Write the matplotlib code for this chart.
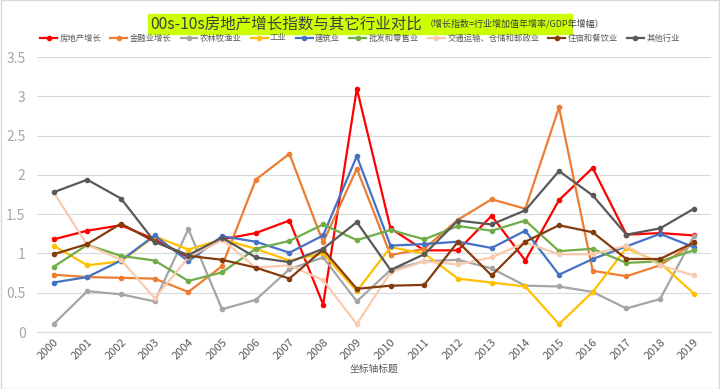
import numpy as np
import matplotlib.pyplot as plt
from matplotlib.patches import Rectangle

plt.rcParams['font.family'] = ['Noto Sans CJK SC', 'DejaVu Sans']

years = [str(y) for y in range(2000, 2020)]

real_estate = [1.18, 1.29, 1.36, 1.18, 0.95, 1.18, 1.26, 1.42, 0.35, 3.10,
               1.32, 1.04, 1.04, 1.48, 0.91, 1.68, 2.09, 1.24, 1.26, 1.23]
finance = [0.73, 0.70, 0.69, 0.68, 0.51, 0.84, 1.94, 2.27, 1.14, 2.08,
           0.98, 1.06, 1.43, 1.69, 1.57, 2.86, 0.78, 0.71, 0.85, 1.13]
agriculture = [0.10, 0.52, 0.48, 0.39, 1.31, 0.29, 0.41, 0.80, 0.95, 0.39,
               0.79, 0.90, 0.92, 0.81, 0.59, 0.58, 0.51, 0.30, 0.42, 1.22]
industry = [1.10, 0.85, 0.90, 1.22, 1.05, 1.18, 1.06, 0.91, 1.00, 0.52,
            1.08, 1.00, 0.68, 0.63, 0.58, 0.10, 0.51, 1.07, 0.88, 0.49]
construction = [0.63, 0.70, 0.91, 1.23, 0.90, 1.22, 1.15, 1.01, 1.23, 2.24,
                1.10, 1.12, 1.15, 1.07, 1.29, 0.73, 0.93, 1.09, 1.25, 1.08]
retail = [0.83, 1.11, 0.97, 0.91, 0.65, 0.76, 1.06, 1.16, 1.37, 1.17,
          1.30, 1.18, 1.35, 1.29, 1.42, 1.03, 1.06, 0.88, 0.90, 1.04]
transport = [1.78, 1.11, 0.92, 0.43, 0.95, 1.18, 0.82, 0.85, 0.66, 0.10,
             0.76, 0.90, 0.86, 0.95, 1.14, 0.99, 0.99, 1.10, 0.85, 0.72]
hotel = [0.99, 1.12, 1.38, 1.15, 0.97, 0.92, 0.82, 0.68, 1.05, 0.55,
         0.59, 0.60, 1.15, 0.72, 1.15, 1.36, 1.27, 0.93, 0.93, 1.14]
others = [1.78, 1.94, 1.70, 1.15, 0.98, 1.20, 0.95, 0.89, 1.06, 1.40,
          0.79, 0.99, 1.42, 1.37, 1.55, 2.05, 1.74, 1.24, 1.32, 1.57]

series = [
    ("房地产增长", real_estate, "#ff0000"),
    ("金融业增长", finance, "#ed7d31"),
    ("农林牧渔业", agriculture, "#a5a5a5"),
    ("工业", industry, "#ffc000"),
    ("建筑业", construction, "#4472c4"),
    ("批发和零售业", retail, "#70ad47"),
    ("交通运输、仓储和邮政业", transport, "#f8cbad"),
    ("住宿和餐饮业", hotel, "#843c0c"),
    ("其他行业", others, "#595959"),
]

fig = plt.figure(figsize=(7.2, 3.89), dpi=100)
ax = fig.add_axes([0.051, 0.1465, 0.936, 0.7065])
x = np.arange(len(years))
for name, vals, color in series:
    ax.plot(x, vals, color=color, lw=1.6, marker='o', ms=3, label=name)

ax.set_xlim(-0.5, len(years) - 0.5)
ax.set_ylim(0, 3.5)
ax.set_yticks(np.arange(0, 3.51, 0.5))
ax.set_yticklabels(['0', '0.5', '1', '1.5', '2', '2.5', '3', '3.5'])
ax.set_xticks(x)
ax.set_xticklabels(years, rotation=45, ha='right', rotation_mode='anchor')
ax.grid(axis='y', color='#d9d9d9', lw=0.8)
ax.set_axisbelow(True)
for s in ax.spines.values():
    s.set_visible(False)
ax.spines['bottom'].set_visible(True)
ax.spines['bottom'].set_color('#d9d9d9')
ax.tick_params(length=0, colors='#595959', labelsize=8)
ax.tick_params(axis='y', labelsize=10, colors='#a6a6a6', pad=8)
ax.set_xlabel("坐标轴标题", fontsize=7, color='#595959', labelpad=2)

# title with highlight box
fig.patches.append(Rectangle((148 / 720, 1 - 34 / 389), 424 / 720, 20 / 389,
                             transform=fig.transFigure, color='#ccff00', zorder=-5))
t1 = fig.text(150 / 720, 1 - 24 / 389, "00s-10s房地产增长指数与其它行业对比",
              fontsize=11.2, color='#404040', va='center', ha='left')
fig.canvas.draw()
bb = t1.get_window_extent()
fig.text(bb.x1 / 720 + 3 / 720, 1 - 24 / 389, "（增长指数=行业增加值年增率/GDP年增幅）",
         fontsize=6.5, color='#404040', va='center', ha='left')

fig.legend(loc='center', bbox_to_anchor=(0.5, 1 - 38 / 389), ncol=9, frameon=False,
           fontsize=6, labelcolor='#595959', handlelength=2.0, handletextpad=0.3,
           columnspacing=1.1, borderpad=0)

fig.patches.append(Rectangle((0.001, 0.001), 0.998, 0.998, transform=fig.transFigure,
                             fill=False, edgecolor='#d9d9d9', lw=1))

fig.savefig("out.png", dpi=100)
